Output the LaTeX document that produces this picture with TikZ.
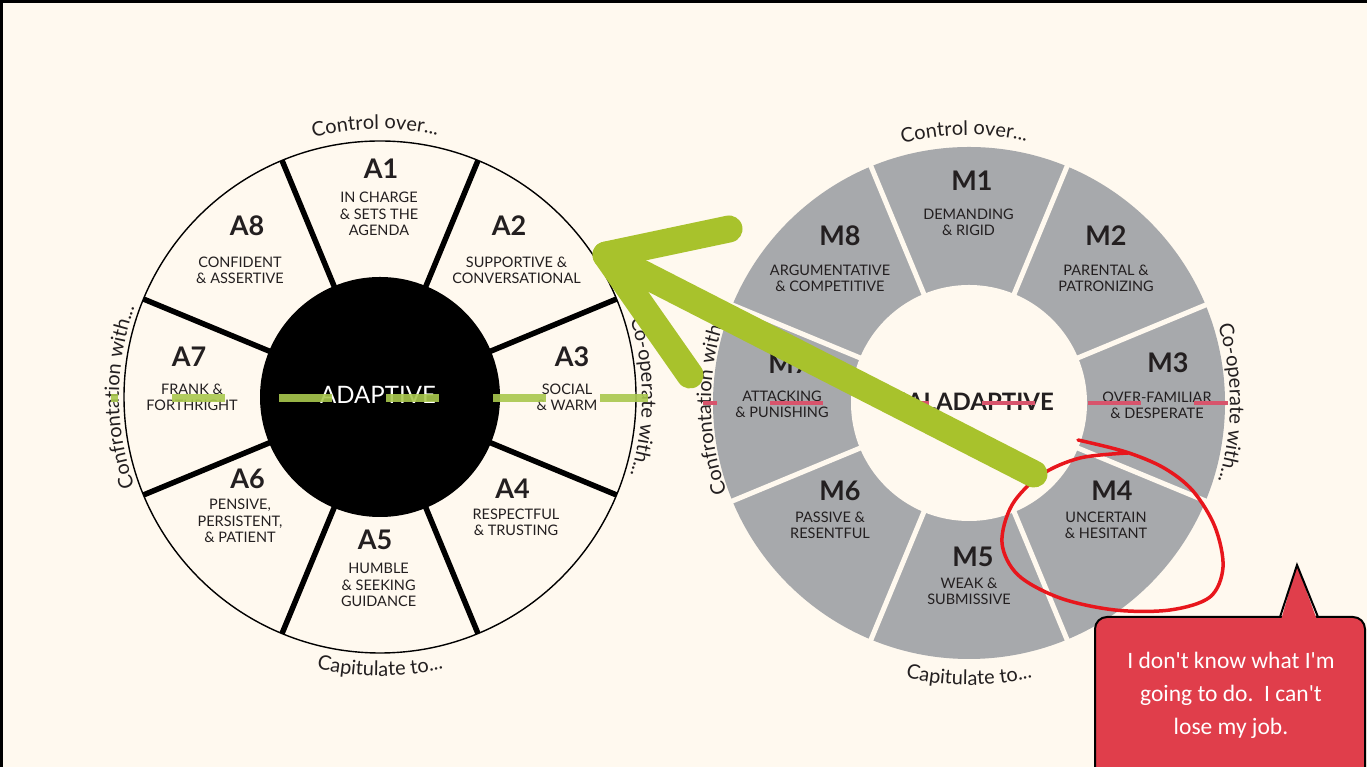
\documentclass[tikz,border=0pt]{standalone}
\usepackage{fontspec}
\setmainfont{Lato}
\newfontfamily\bubblefont{Carlito}
\usetikzlibrary{decorations.text}
\definecolor{bg}{HTML}{FFF9EF}
\definecolor{wheelgray}{HTML}{A7A9AC}
\definecolor{arrowgreen}{HTML}{A8C22C}
\definecolor{dashgreen}{HTML}{A9C84E}
\definecolor{dashpink}{HTML}{D8546C}
\definecolor{loopred}{HTML}{E8161C}
\definecolor{bubblered}{HTML}{E03E4B}
\definecolor{ink}{HTML}{231F20}
\newcommand\perifont{\fontsize{20}{22}\selectfont}
\begin{document}
\begin{tikzpicture}[x=1pt,y=1pt,
  sectitle/.style={font=\fontsize{27}{30}\selectfont\bfseries, text=ink, inner sep=0pt},
  secbody/.style={font=\fontsize{14.5}{16.3}\selectfont, text=ink, align=center, inner sep=0pt},
  spoke/.style={line width=5.5, black},
  gapline/.style={line width=5, bg},
  greenstroke/.style={arrowgreen, line width=27, line cap=round, line join=round}
]
\useasboundingbox (0,0) rectangle (1367,767);
\fill[bg] (0,0) rectangle (1367,767);
\fill[black] (0,764) rectangle (1367,767);
\fill[black] (0,0) rectangle (3,767);

% ---------------- left wheel
\coordinate (L) at (380,370);
\draw[line width=1.4, fill=bg] (L) circle[radius=256];
\foreach \a in {22.5,67.5,...,337.5}
  \draw[spoke] ([shift={(\a:115)}]L) -- ([shift={(\a:256)}]L);
\fill[black] (L) circle[radius=120];

\node[sectitle] (a1) at (381,598.5) {A1};
\node[secbody] (a1t) at (379,553) {IN CHARGE\\\& SETS THE\\AGENDA};
\node[sectitle] (a2) at (509,541) {A2};
\node[secbody] (a2t) at (516.5,497) {SUPPORTIVE \&\\CONVERSATIONAL};
\node[sectitle] (a3) at (572,410) {A3};
\node[secbody] (a3t) at (567,369.5) {SOCIAL\\\& WARM};
\node[sectitle] (a4) at (512.5,278) {A4};
\node[secbody] (a4t) at (516,245) {RESPECTFUL\\\& TRUSTING};
\node[sectitle] (a5) at (375,227) {A5};
\node[secbody] (a5t) at (378.6,182) {HUMBLE\\\& SEEKING\\GUIDANCE};
\node[sectitle] (a6) at (247.5,288) {A6};
\node[secbody] (a6t) at (240,246) {PENSIVE,\\PERSISTENT,\\\& PATIENT};
\node[sectitle] (a7) at (189,410) {A7};
\node[secbody] (a7t) at (192,369.5) {FRANK \&\\FORTHRIGHT};
\node[sectitle] (a8) at (247,541) {A8};
\node[secbody] (a8t) at (240,497) {CONFIDENT\\\& ASSERTIVE};
\node[font=\fontsize{24}{26}\selectfont, text=white, inner sep=0pt] (adapt) at (378,372) {ADAPTIVE};

% ---------------- right wheel
\coordinate (R) at (969,364);
\fill[wheelgray] (R) circle[radius=256];
\fill[bg] (R) circle[radius=118];
\foreach \a in {22.5,67.5,...,337.5}
  \draw[gapline] ([shift={(\a:105)}]R) -- ([shift={(\a:262)}]R);

\node[sectitle] (m1) at (972,586) {M1};
\node[secbody] (m1t) at (968.5,545) {DEMANDING\\\& RIGID};
\node[sectitle] (m2) at (1106,531) {M2};
\node[secbody] (m2t) at (1106,489) {PARENTAL \&\\PATRONIZING};
\node[sectitle] (m3) at (1168,404) {M3};
\node[secbody] (m3t) at (1157,362) {OVER-FAMILIAR\\\& DESPERATE};
\node[sectitle] (m4) at (1112,276) {M4};
\node[secbody] (m4t) at (1106,241.5) {UNCERTAIN\\\& HESITANT};
\node[sectitle] (m5) at (973,210) {M5};
\node[secbody] (m5t) at (969,176) {WEAK \&\\SUBMISSIVE};
\node[sectitle] (m6) at (840,276) {M6};
\node[secbody] (m6t) at (830,241.5) {PASSIVE \&\\RESENTFUL};
\node[sectitle] (m7) at (789,403) {M7};
\node[secbody] (m7t) at (782,363) {ATTACKING\\\& PUNISHING};
\node[sectitle] (m8) at (840,531) {M8};
\node[secbody] (m8t) at (830,489) {ARGUMENTATIVE\\\& COMPETITIVE};
\node[font=\fontsize{24}{26}\selectfont\bfseries, text=ink, inner sep=0pt] (maladapt) at (969,365) {MALADAPTIVE};

% ---------------- perimeter texts
\path[decorate, decoration={text along path, text align=center, text color=ink, text={|\perifont|Control over...}}]
  ([shift={(126:268)}]L) arc[start angle=126, end angle=56, radius=268];
\path[decorate, decoration={text along path, text align=center, text color=ink, text={|\perifont|Capitulate to...}}]
  ([shift={(235:279)}]L) arc[start angle=235, end angle=305, radius=279];
\path[decorate, decoration={text along path, text align=center, text color=ink, text={|\perifont|Confrontation with...}}]
  ([shift={(225:261)}]L) arc[start angle=225, end angle=135, radius=261];
\path[decorate, decoration={text along path, text align=center, text color=ink, text={|\perifont|Co-operate with...}}]
  ([shift={(45:262)}]L) arc[start angle=45, end angle=-45, radius=262];

\path[decorate, decoration={text along path, text align=center, text color=ink, text={|\perifont|Control over...}}]
  ([shift={(126:268)}]R) arc[start angle=126, end angle=56, radius=268];
\path[decorate, decoration={text along path, text align=center, text color=ink, text={|\perifont|Capitulate to...}}]
  ([shift={(235:282)}]R) arc[start angle=235, end angle=305, radius=282];
\path[decorate, decoration={text along path, text align=center, text color=ink, text={|\perifont|Confrontation with...}}]
  ([shift={(225:258)}]R) arc[start angle=225, end angle=135, radius=258];
\path[decorate, decoration={text along path, text align=center, text color=ink, text={|\perifont|Co-operate with...}}]
  ([shift={(45:261)}]R) arc[start angle=45, end angle=-45, radius=261];

% ---------------- dashed axes
\coordinate (gl1) at (111,369);
\coordinate (gl2) at (648,369);
\draw[dashgreen, opacity=0.9, line width=8, dash pattern=on 53 off 54, dash phase=46] (gl1) -- (gl2);
\coordinate (pl1) at (703,364);
\coordinate (pl2) at (1228,364);
\draw[dashpink, line width=3.5, dash pattern=on 53 off 53, dash phase=39] (pl1) -- (pl2);

% ---------------- red loop round M4
\draw[loopred, line width=3.5, line cap=round, line join=round] plot[smooth, tension=0.55] coordinates {
  (1078,327) (1126,315) (1164,299) (1193,276) (1215,240) (1223,200) (1210,170)
  (1170,157) (1115,157) (1060,169) (1018,192) (1002,224) (1012,262) (1041,292)
  (1080,309) (1128,314)};

% ---------------- green arrow
\coordinate (tail) at (1034,293);
\coordinate (tip) at (606,512);
\coordinate (armU) at (729,538);
\coordinate (armD) at (690,392);
\draw[greenstroke] (armU) -- (tip) -- (armD);
\draw[greenstroke] (tip) -- (tail);

% ---------------- speech bubble
\path[fill=bubblered, draw=black, line width=2, rounded corners=12] (1095,-20) rectangle (1365,150);
\coordinate (tb1) at (1280,150);
\coordinate (tap) at (1297,202);
\coordinate (tb2) at (1318,150);
\fill[bubblered] (1281,147) -- (tap) -- (1317,147) -- cycle;
\draw[black, line width=2, line join=miter] (tb1) -- (tap) -- (tb2);
\node[font=\bubblefont\fontsize{23.5}{33}\selectfont, text=white, align=center, inner sep=0pt] (say) at (1231,72)
  {I don't know what I'm\\going to do.\ \ I can't\\lose my job.};
\end{tikzpicture}
\end{document}
